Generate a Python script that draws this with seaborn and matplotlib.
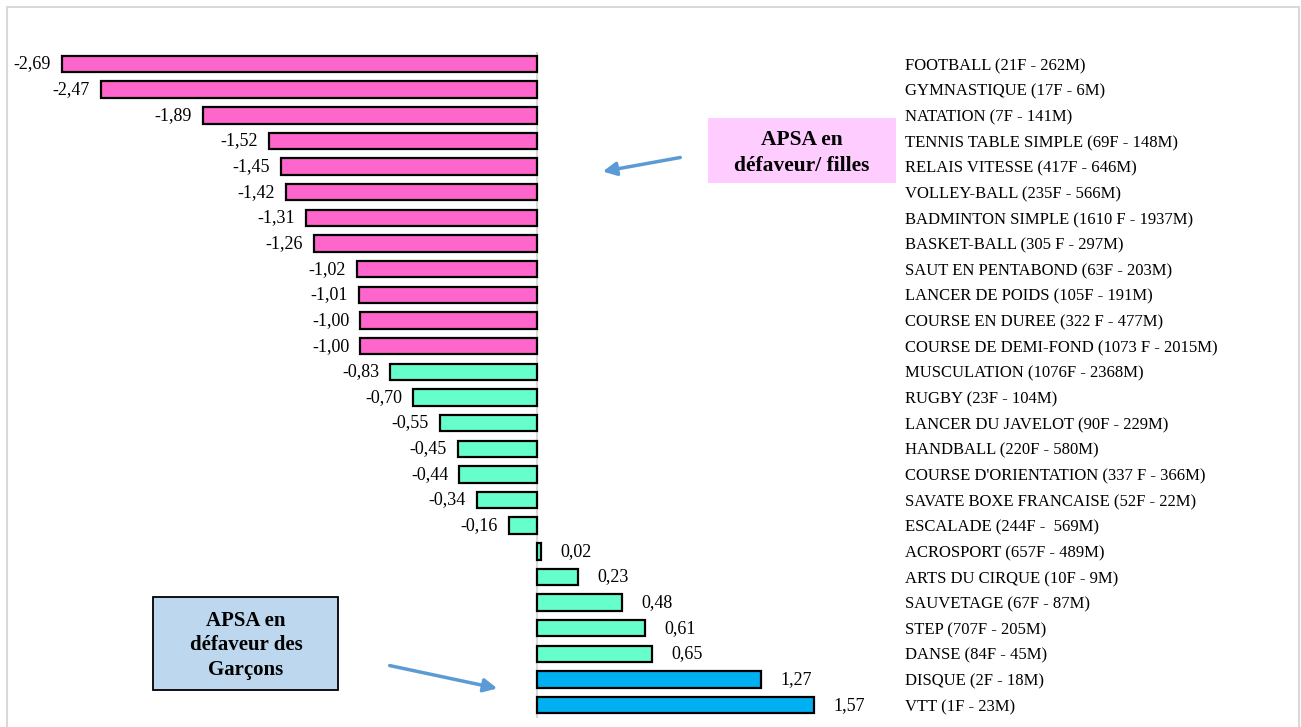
import matplotlib
matplotlib.use("Agg")
import matplotlib.pyplot as plt
import seaborn as sns
import pandas as pd
from matplotlib.patches import Rectangle, FancyArrowPatch

activites = [
    "FOOTBALL (21F - 262M)", "GYMNASTIQUE (17F - 6M)", "NATATION (7F - 141M)",
    "TENNIS TABLE SIMPLE (69F - 148M)", "RELAIS VITESSE (417F - 646M)",
    "VOLLEY-BALL (235F - 566M)", "BADMINTON SIMPLE (1610 F - 1937M)",
    "BASKET-BALL (305 F - 297M)", "SAUT EN PENTABOND (63F - 203M)",
    "LANCER DE POIDS (105F - 191M)", "COURSE EN DUREE (322 F - 477M)",
    "COURSE DE DEMI-FOND (1073 F - 2015M)", "MUSCULATION (1076F - 2368M)",
    "RUGBY (23F - 104M)", "LANCER DU JAVELOT (90F - 229M)",
    "HANDBALL (220F - 580M)", "COURSE D'ORIENTATION (337 F - 366M)",
    "SAVATE BOXE FRANCAISE (52F - 22M)", "ESCALADE (244F -  569M)",
    "ACROSPORT (657F - 489M)", "ARTS DU CIRQUE (10F - 9M)",
    "SAUVETAGE (67F - 87M)", "STEP (707F - 205M)", "DANSE (84F - 45M)",
    "DISQUE (2F - 18M)", "VTT (1F - 23M)",
]
ecarts = [-2.69, -2.47, -1.89, -1.52, -1.45, -1.42, -1.31, -1.26, -1.02,
          -1.01, -1.00, -1.00, -0.83, -0.70, -0.55, -0.45, -0.44, -0.34,
          -0.16, 0.02, 0.23, 0.48, 0.61, 0.65, 1.27, 1.57]
groupes = ["filles"] * 12 + ["neutre"] * 12 + ["garcons"] * 2

couleurs = {"filles": "#FF66CC", "neutre": "#66FFCC", "garcons": "#00B0F0"}

df = pd.DataFrame({"activite": activites, "ecart": ecarts, "groupe": groupes})

sns.set_style("white")
plt.rcParams["font.family"] = ["Liberation Serif", "DejaVu Serif"]
plt.rcParams["text.color"] = "black"

W, H = 1301, 727
fig = plt.figure(figsize=(W / 100, H / 100), dpi=100)
# axes placed in pixels: left 10, right 895, top 52, bottom 718
ax = fig.add_axes([10 / W, 1 - 718 / H, 885 / W, 666 / H])

sns.barplot(data=df, y="activite", x="ecart", hue="activite",
            palette=[couleurs[g] for g in groupes], legend=False,
            dodge=False, width=0.64, edgecolor="black", linewidth=1.6,
            saturation=1, orient="h", ax=ax)

for cont, v in zip(ax.containers, ecarts):
    txt = f"{v:.2f}".replace(".", ",")
    ax.bar_label(cont, labels=[txt], padding=8 if v < 0 else 14,
                 fontsize=13, color="black")

x0 = -(537 - 10) / 176.6
ax.set_xlim(x0, x0 + 885 / 176.6)
ax.set_ylim(25.5, -0.47)
ax.axvline(0, color="#D9D9D9", lw=1.5, zorder=0)

ax.yaxis.tick_right()
ax.tick_params(axis="y", length=0, pad=7, labelsize=12, labelcolor="black")
ax.set_xticks([])
ax.set_xlabel("")
ax.set_ylabel("")
for s in ax.spines.values():
    s.set_visible(False)

# outer frame
fig.patches.append(Rectangle((7 / W, -0.01), 1292 / W, 1 - 7 / H + 0.01,
                             transform=fig.transFigure, fill=False,
                             edgecolor="#D9D9D9", lw=1.5))

def px(x, y):
    return (x / W, 1 - y / H)

# box filles
fig.patches.append(Rectangle(px(708, 183), 188 / W, 65 / H,
                             transform=fig.transFigure, facecolor="#FFCCFF",
                             edgecolor="none"))
fig.text(*px(802, 153), "APSA en\ndéfaveur/ filles", ha="center", va="center",
         fontsize=15.5, fontweight="bold", linespacing=1.4, color="black")
fig.patches.append(FancyArrowPatch(px(683, 157), px(600, 172),
                                   transform=fig.transFigure,
                                   arrowstyle="-|>,head_length=8,head_width=4",
                                   color="#5B9BD5", lw=2.5))

# box garcons
fig.patches.append(Rectangle(px(153, 690), 185 / W, 93 / H,
                             transform=fig.transFigure, facecolor="#BDD7EE",
                             edgecolor="black", lw=1.3))
fig.text(*px(246, 645), "APSA en\ndéfaveur des\nGarçons", ha="center",
         va="center", fontsize=15, fontweight="bold", linespacing=1.3,
         color="black")
fig.patches.append(FancyArrowPatch(px(387, 665), px(500, 689),
                                   transform=fig.transFigure,
                                   arrowstyle="-|>,head_length=8,head_width=4",
                                   color="#5B9BD5", lw=2.5))

fig.savefig("out.png", dpi=100)
